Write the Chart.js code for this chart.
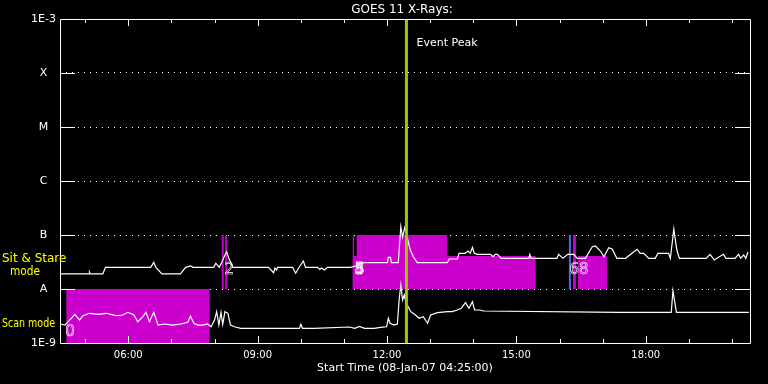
<!DOCTYPE html>
<html>
<head>
<meta charset="utf-8">
<script src="https://cdn.jsdelivr.net/npm/chart.js@4"></script>
<style>
  html, body { margin: 0; padding: 0; background: #000; }
  #wrap { width: 768px; height: 384px; }
</style>
</head>
<body>
<div id="wrap"><canvas id="chart" width="768" height="384"></canvas></div>
<script>
const START_HOUR = 4 + 25 / 60;
const END_HOUR = START_HOUR + 16;
const EVENT_PEAK = 12.45;

const yExponents = [-9, -8, -7, -6, -5, -4, -3];
const yLabels = ["1E-9", "A", "B", "C", "M", "X", "1E-3"];
const hourTicks = [5, 6, 7, 8, 9, 10, 11, 12, 13, 14, 15, 16, 17, 18, 19, 20];

// sit & stare mode curve (hours UT, flux)
const sitTimes = [
  4.43, 5.09, 5.10, 5.12, 5.41, 5.47, 6.52, 6.59, 6.64, 6.78,
  7.21, 7.33, 7.45, 7.50, 7.98, 8.03, 8.11, 8.17, 8.21, 8.28,
  8.33, 8.42, 9.25, 9.37, 9.40, 9.44, 9.46, 9.81, 9.88, 9.95,
  10.06, 10.11, 10.39, 10.44, 10.48, 10.55, 10.62, 11.15, 11.27, 11.36,
  11.47, 12.01, 12.03, 12.08, 12.10, 12.26, 12.32, 12.36, 12.41, 12.47,
  12.54, 12.61, 12.70, 13.40, 13.44, 13.63, 13.67, 13.81, 13.88, 13.93,
  13.98, 14.02, 14.09, 14.40, 14.46, 14.51, 14.56, 14.65, 15.29, 15.31,
  15.34, 15.94, 15.98, 16.08, 16.19, 16.33, 16.41, 16.60, 16.76, 16.83,
  16.95, 17.03, 17.14, 17.22, 17.33, 17.53, 17.68, 17.80, 17.87, 17.95,
  18.07, 18.22, 18.28, 18.53, 18.57, 18.65, 18.72, 18.78, 19.40, 19.49,
  19.59, 19.65, 19.80, 19.86, 20.07, 20.15, 20.20, 20.27, 20.32, 20.37
];
const sitFlux = [
  1.90e-8, 1.90e-8, 2.07e-8, 1.90e-8, 1.90e-8, 2.52e-8, 2.52e-8, 3.12e-8, 2.52e-8, 1.90e-8,
  1.90e-8, 2.52e-8, 2.67e-8, 2.52e-8, 2.52e-8, 3.00e-8, 2.52e-8, 3.16e-8, 3.75e-8, 4.91e-8,
  3.75e-8, 2.52e-8, 2.52e-8, 2.00e-8, 2.45e-8, 2.25e-8, 2.52e-8, 2.52e-8, 1.95e-8, 2.45e-8,
  3.30e-8, 2.52e-8, 2.52e-8, 2.30e-8, 2.45e-8, 2.25e-8, 2.52e-8, 2.52e-8, 2.67e-8, 2.90e-8,
  3.07e-8, 3.07e-8, 3.86e-8, 3.86e-8, 3.07e-8, 3.07e-8, 1.43e-7, 9.18e-8, 1.35e-7, 8.80e-8,
  5.27e-8, 3.96e-8, 3.07e-8, 3.07e-8, 3.59e-8, 3.59e-8, 4.58e-8, 4.58e-8, 5.05e-8, 4.58e-8,
  5.92e-8, 4.64e-8, 4.39e-8, 4.39e-8, 3.96e-8, 4.39e-8, 4.39e-8, 3.70e-8, 3.70e-8, 4.39e-8,
  3.70e-8, 3.70e-8, 4.39e-8, 3.70e-8, 4.39e-8, 4.39e-8, 3.70e-8, 3.70e-8, 6.07e-8, 6.25e-8,
  5.05e-8, 3.96e-8, 5.82e-8, 5.50e-8, 3.70e-8, 3.70e-8, 4.58e-8, 5.45e-8, 4.58e-8, 4.58e-8,
  3.70e-8, 3.70e-8, 4.58e-8, 4.58e-8, 3.70e-8, 1.28e-7, 5.27e-8, 3.70e-8, 3.70e-8, 4.39e-8,
  3.44e-8, 3.70e-8, 4.39e-8, 3.70e-8, 3.70e-8, 4.39e-8, 3.70e-8, 4.26e-8, 3.70e-8, 4.84e-8
];

// scan mode curve
const scanTimes = [
  4.42, 4.53, 4.68, 4.76, 4.87, 4.95, 5.10, 5.30, 5.49, 5.60,
  5.72, 5.87, 5.99, 6.13, 6.22, 6.34, 6.41, 6.49, 6.59, 6.69,
  6.84, 7.03, 7.22, 7.38, 7.44, 7.52, 7.61, 7.73, 7.84, 7.92,
  8.00, 8.05, 8.10, 8.15, 8.19, 8.24, 8.31, 8.37, 8.46, 8.61,
  9.97, 10.00, 10.04, 10.31, 11.13, 11.25, 11.36, 11.48, 11.70, 11.85,
  11.99, 12.03, 12.07, 12.16, 12.24, 12.28, 12.32, 12.36, 12.40, 12.44,
  12.49, 12.55, 12.66, 12.74, 12.84, 12.94, 13.01, 13.17, 13.40, 13.51,
  13.63, 13.72, 13.82, 13.90, 13.98, 14.03, 14.14, 14.25, 17.38, 18.59,
  18.63, 18.71, 20.39
];
const scanFlux = [
  2.25e-9, 2.15e-9, 2.87e-9, 3.40e-9, 2.67e-9, 3.20e-9, 3.55e-9, 3.40e-9, 3.55e-9, 3.40e-9,
  3.20e-9, 3.30e-9, 3.70e-9, 3.30e-9, 2.48e-9, 3.07e-9, 3.70e-9, 2.48e-9, 3.70e-9, 2.15e-9,
  2.25e-9, 2.15e-9, 2.25e-9, 2.42e-9, 3.16e-9, 2.32e-9, 2.15e-9, 2.15e-9, 2.25e-9, 2.00e-9,
  2.67e-9, 3.80e-9, 2.15e-9, 3.70e-9, 2.22e-9, 3.80e-9, 3.55e-9, 2.15e-9, 2.00e-9, 1.87e-9,
  1.87e-9, 2.22e-9, 1.87e-9, 1.87e-9, 1.98e-9, 1.87e-9, 2.02e-9, 1.87e-9, 1.87e-9, 1.95e-9,
  2.00e-9, 2.87e-9, 2.32e-9, 2.15e-9, 2.25e-9, 6.25e-9, 1.19e-8, 6.25e-9, 7.74e-9, 5.51e-9,
  4.70e-9, 3.80e-9, 3.30e-9, 2.87e-9, 3.07e-9, 2.32e-9, 3.30e-9, 3.65e-9, 3.80e-9, 3.80e-9,
  4.08e-9, 4.39e-9, 5.58e-9, 4.39e-9, 5.82e-9, 4.08e-9, 4.08e-9, 3.91e-9, 3.70e-9, 3.70e-9,
  9.30e-9, 3.70e-9, 3.70e-9
];

// observing-mode blocks
const blockStart = [4.56, 11.20, 11.29, 11.20, 16.31, 16.43];
const blockEnd = [7.89, 11.24, 13.39, 15.45, 16.38, 17.10];
const blockTop = [1e-8, 1e-7, 1e-7, 4.08e-8, 1e-7, 4.08e-8];
const blockBase = [1e-9, 1e-8, 1e-8, 1e-8, 1e-8, 1e-8];
const markerTimes = [8.19, 8.27];
const blueMarkerTime = 16.24;

const markLabels = ["0", "2", "3", "4", "5", "6", "8"];
const markLabelTimes = [4.65, 8.34, 11.36, 11.36, 11.36, 16.34, 16.56];
const markLabelFlux = [1.6e-9, 2.25e-8, 2.25e-8, 2.25e-8, 2.25e-8, 2.2e-8, 2.2e-8];

const MAGENTA = "#cc00cc";
Chart.defaults.font.family = "DejaVu Sans";

const toPoints = (xs, ys) => xs.map((x, i) => ({ x, y: ys[i] }));

const datasets = [];

datasets.push({
  data: [{ x: EVENT_PEAK, y: 1e-9 }, { x: EVENT_PEAK, y: 1e-3 }],
  borderColor: "#99cc00",
  borderWidth: 3,
  order: 0,
});
datasets.push({
  data: toPoints(sitTimes, sitFlux),
  borderColor: "#ffffff",
  borderWidth: 1.2,
  order: 1,
});
datasets.push({
  data: toPoints(scanTimes, scanFlux),
  borderColor: "#ffffff",
  borderWidth: 1.2,
  order: 1,
});
markerTimes.forEach((t) => {
  datasets.push({
    data: [{ x: t, y: 1e-8 }, { x: t, y: 1e-7 }],
    borderColor: MAGENTA,
    borderWidth: 2,
    order: 2,
  });
});
datasets.push({
  data: [{ x: blueMarkerTime, y: 1e-8 }, { x: blueMarkerTime, y: 1e-7 }],
  borderColor: "#4a6cf0",
  borderWidth: 2,
  order: 2,
});
blockStart.forEach((s, i) => {
  datasets.push({
    data: [{ x: s, y: blockTop[i] }, { x: blockEnd[i], y: blockTop[i] }],
    borderColor: "rgba(0,0,0,0)",
    borderWidth: 0,
    backgroundColor: MAGENTA,
    fill: { value: blockBase[i] },
    order: 3,
  });
});

const decor = {
  id: "decor",
  beforeDraw(chart) {
    const { ctx, width, height } = chart;
    ctx.save();
    ctx.fillStyle = "#000";
    ctx.fillRect(0, 0, width, height);
    ctx.restore();
  },
  afterDraw(chart) {
    const { ctx, chartArea: area } = chart;
    const xs = chart.scales.x;
    const ys = chart.scales.y;
    ctx.save();
    ctx.strokeStyle = "#fff";
    ctx.lineWidth = 1;
    ctx.beginPath();
    ctx.rect(area.left + 0.5, area.top + 0.5, area.right - area.left, area.bottom - area.top);
    hourTicks.forEach((h) => {
      const px = Math.round(xs.getPixelForValue(h)) + 0.5;
      const len = h % 3 === 0 ? 7 : 4;
      ctx.moveTo(px, area.bottom);
      ctx.lineTo(px, area.bottom - len);
      ctx.moveTo(px, area.top);
      ctx.lineTo(px, area.top + len);
    });
    yExponents.slice(1, -1).forEach((e) => {
      const py = Math.round(ys.getPixelForValue(Math.pow(10, e))) + 0.5;
      ctx.moveTo(area.left, py);
      ctx.lineTo(area.left + 15, py);
      ctx.moveTo(area.right - 15, py);
      ctx.lineTo(area.right, py);
    });
    ctx.stroke();

    ctx.fillStyle = "#fff";
    ctx.textBaseline = "middle";
    ctx.textAlign = "center";
    ctx.font = "12px DejaVu Sans";
    ctx.fillText("GOES 11 X-Rays:", 402, 10);

    ctx.textAlign = "left";
    ctx.font = "11px DejaVu Sans";
    ctx.fillText("Event Peak", xs.getPixelForValue(EVENT_PEAK) + 10, 43);

    // side labels for the two observing modes
    ctx.fillStyle = "#ffff00";
    ctx.font = "12px DejaVu Sans";
    ctx.fillText("Sit & Stare", 2, 259, 65);
    ctx.fillText("Scan mode", 2, 324, 53);
    ctx.textAlign = "center";
    ctx.fillText("mode", 25, 272, 30);

    ctx.font = "15px DejaVu Sans";
    ctx.lineWidth = 0.6;
    markLabels.forEach((t, i) => {
      ctx.strokeText(t, xs.getPixelForValue(markLabelTimes[i]), ys.getPixelForValue(markLabelFlux[i]));
    });
    ctx.restore();
  },
};

new Chart(document.getElementById("chart"), {
  type: "line",
  data: { datasets },
  plugins: [decor],
  options: {
    responsive: false,
    animation: false,
    layout: { padding: { top: 19, right: 18, left: 0, bottom: 0 } },
    elements: { point: { radius: 0 }, line: { tension: 0 } },
    plugins: { legend: { display: false }, tooltip: { enabled: false } },
    scales: {
      x: {
        type: "linear",
        min: START_HOUR,
        max: END_HOUR,
        afterBuildTicks: (scale) => {
          scale.ticks = hourTicks.map((v) => ({ value: v }));
        },
        afterFit: (scale) => {
          scale.height = 41;
        },
        grid: { display: false, drawTicks: false },
        border: { display: false },
        ticks: {
          color: "#fff",
          font: { size: 10 },
          padding: 6,
          maxRotation: 0,
          autoSkip: false,
          callback: (v) => (v % 3 === 0 ? String(v).padStart(2, "0") + ":00" : ""),
        },
        title: {
          display: true,
          text: "Start Time (08-Jan-07 04:25:00)",
          color: "#fff",
          font: { size: 11 },
          padding: { top: 0, bottom: 9 },
        },
      },
      y: {
        type: "logarithmic",
        min: 1e-9,
        max: 1e-3,
        afterBuildTicks: (scale) => {
          scale.ticks = yExponents.map((e) => ({ value: Number("1e" + e) }));
        },
        afterFit: (scale) => {
          scale.width = 60;
        },
        grid: {
          drawTicks: false,
          color: (ctx) => (ctx.index === 0 || ctx.index === yExponents.length - 1 ? "rgba(0,0,0,0)" : "#fff"),
        },
        border: { display: false, dash: [1, 5] },
        ticks: {
          color: "#fff",
          font: { size: 11 },
          padding: 4,
          crossAlign: "center",
          autoSkip: false,
          callback: (v, i) => yLabels[i],
        },
      },
    },
  },
});
</script>
</body>
</html>
